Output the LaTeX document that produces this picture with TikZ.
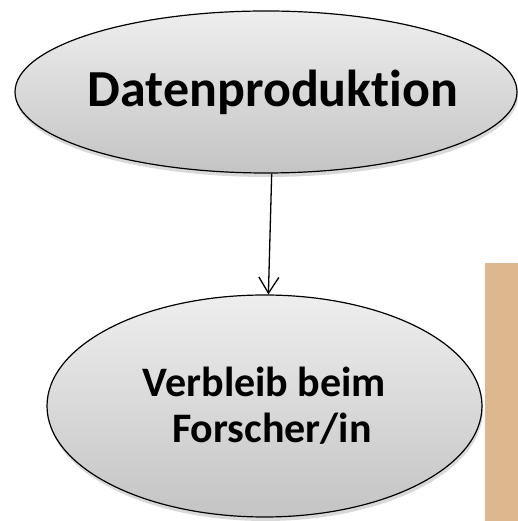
\documentclass[tikz,border=0pt]{standalone}
\usepackage{fontspec}
\setmainfont{Carlito}[Ligatures=NoCommon]
\usepackage{tikz}
\usetikzlibrary{arrows.meta,shapes.geometric,shadows}
\definecolor{BoxTan}{RGB}{221,183,142}
\definecolor{BubbleTop}{RGB}{238,238,238}
\definecolor{BubbleBottom}{RGB}{196,196,196}

\begin{document}
\begin{tikzpicture}[x=1pt,y=1pt,
            bubble/.style={ellipse, draw=black, line width=1.2pt, inner sep=0pt,
                top color=BubbleTop, bottom color=BubbleBottom,
                drop shadow={shadow xshift=1pt, shadow yshift=-4pt, opacity=0.3, fill=gray}},
            flow/.style={line width=1.3pt, -{Straight Barb[length=16pt,width=20pt]}}]
            %% Background and boundary
            \useasboundingbox (0,0) rectangle (518,521);
            \fill[BoxTan] (485,0) rectangle (518,258);
            %% Ellipses
            \node[bubble, inner xsep=-40pt, minimum width=502pt, minimum height=162pt,
                font=\bfseries\fontsize{52}{60}\selectfont] (prod) at (266,429) {\hspace*{14pt}Datenproduktion};
            \node[bubble, minimum width=435pt, minimum height=222pt, align=center,
                font=\bfseries\fontsize{42}{46}\selectfont] (stay) at (264.5,115) {Verbleib beim\\ \hspace*{15pt}Forscher/in};
            %% Arrow
            \draw[flow] (prod.274) -- (stay.88);
\end{tikzpicture}
\end{document}
